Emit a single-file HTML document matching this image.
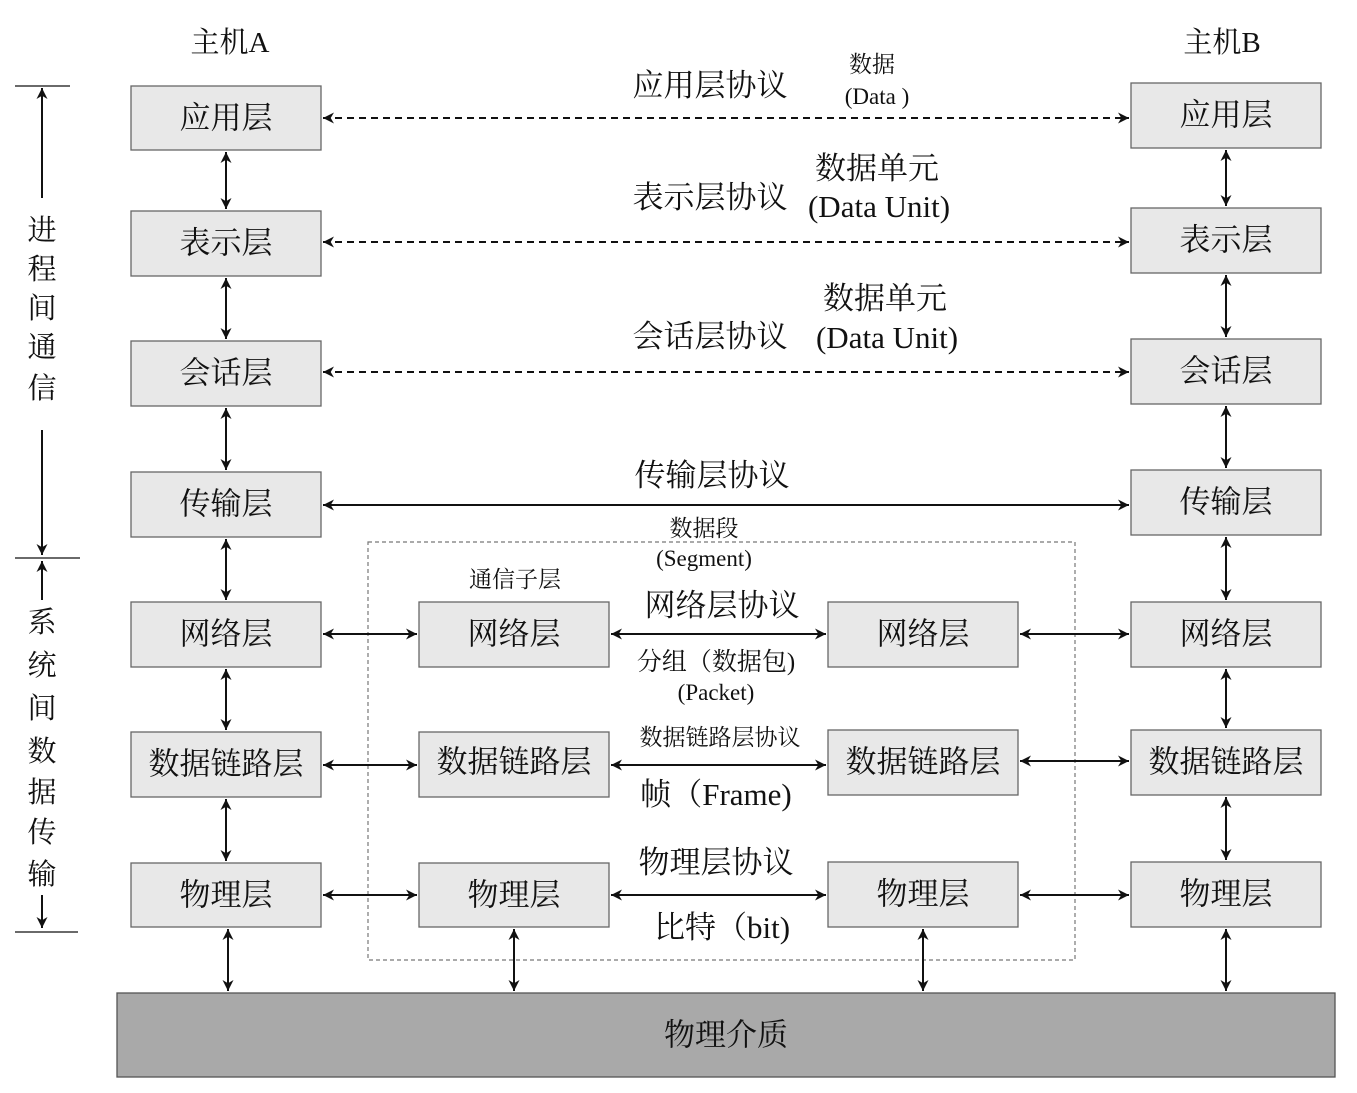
<!DOCTYPE html>
<html><head><meta charset="utf-8"><style>
html,body{margin:0;padding:0;background:#fff}
svg{display:block}
text{font-family:"Liberation Serif","Noto Serif CJK SC",serif;fill:#111;font-weight:normal}
.b{fill:#e8e8e8;stroke:#666;stroke-width:1.3}
.t{font-size:31px;text-anchor:middle;dominant-baseline:central}
.l{stroke:#111;stroke-width:2;fill:none}
.d{stroke:#111;stroke-width:2;fill:none;stroke-dasharray:7 5}
</style></head><body>
<svg width="1357" height="1093" viewBox="0 0 1357 1093">
<defs>
<marker id="a" viewBox="0 0 10 10" refX="10" refY="5" markerWidth="16" markerHeight="11" markerUnits="userSpaceOnUse" orient="auto-start-reverse"><path d="M0,0 L10,5 L0,10 L3,5z" fill="#111"/></marker>
</defs>
<text x="230" y="52" font-size="29" text-anchor="middle">主机A</text>
<text x="1222" y="52" font-size="29" text-anchor="middle">主机B</text>
<line x1="15" y1="86" x2="70" y2="86" class="l" style="stroke-width:1.3"/>
<line x1="42" y1="198" x2="42" y2="88" class="l" marker-end="url(#a)"/>
<line x1="42" y1="430" x2="42" y2="555" class="l" marker-end="url(#a)"/>
<line x1="15" y1="558" x2="80" y2="558" class="l" style="stroke-width:1.3"/>
<line x1="42" y1="600" x2="42" y2="561" class="l" marker-end="url(#a)"/>
<line x1="42" y1="895" x2="42" y2="928" class="l" marker-end="url(#a)"/>
<line x1="15" y1="932" x2="78" y2="932" class="l" style="stroke-width:1.3"/>
<g font-size="29" text-anchor="middle">
<text x="42" y="240">进</text><text x="42" y="279">程</text><text x="42" y="318">间</text><text x="42" y="357">通</text><text x="42" y="398">信</text>
<text x="42" y="632">系</text><text x="42" y="675">统</text><text x="42" y="718">间</text><text x="42" y="761">数</text><text x="42" y="802">据</text><text x="42" y="842">传</text><text x="42" y="884">输</text>
</g>
<rect x="368" y="542" width="707" height="418" fill="none" stroke="#777" stroke-width="1.2" stroke-dasharray="4 3"/>
<rect x="117" y="993" width="1218" height="84" fill="#a9a9a9" stroke="#555" stroke-width="1.3"/>
<text x="726" y="1035" class="t">物理介质</text>
<g>
<rect class="b" x="131" y="86" width="190" height="64"/><text class="t" x="226" y="118">应用层</text>
<rect class="b" x="131" y="211" width="190" height="65"/><text class="t" x="226" y="243">表示层</text>
<rect class="b" x="131" y="341" width="190" height="65"/><text class="t" x="226" y="373">会话层</text>
<rect class="b" x="131" y="472" width="190" height="65"/><text class="t" x="226" y="504">传输层</text>
<rect class="b" x="131" y="602" width="190" height="65"/><text class="t" x="226" y="634">网络层</text>
<rect class="b" x="131" y="732" width="190" height="65"/><text class="t" x="226" y="764">数据链路层</text>
<rect class="b" x="131" y="863" width="190" height="64"/><text class="t" x="226" y="895">物理层</text>
</g>
<g>
<rect class="b" x="1131" y="83" width="190" height="65"/><text class="t" x="1226" y="115">应用层</text>
<rect class="b" x="1131" y="208" width="190" height="65"/><text class="t" x="1226" y="240">表示层</text>
<rect class="b" x="1131" y="339" width="190" height="65"/><text class="t" x="1226" y="371">会话层</text>
<rect class="b" x="1131" y="470" width="190" height="65"/><text class="t" x="1226" y="502">传输层</text>
<rect class="b" x="1131" y="602" width="190" height="65"/><text class="t" x="1226" y="634">网络层</text>
<rect class="b" x="1131" y="730" width="190" height="65"/><text class="t" x="1226" y="762">数据链路层</text>
<rect class="b" x="1131" y="862" width="190" height="65"/><text class="t" x="1226" y="894">物理层</text>
</g>
<g>
<rect class="b" x="419" y="602" width="190" height="65"/><text class="t" x="514" y="634">网络层</text>
<rect class="b" x="419" y="732" width="190" height="65"/><text class="t" x="514" y="762">数据链路层</text>
<rect class="b" x="419" y="863" width="190" height="64"/><text class="t" x="514" y="895">物理层</text>
<rect class="b" x="828" y="602" width="190" height="65"/><text class="t" x="923" y="634">网络层</text>
<rect class="b" x="828" y="730" width="190" height="65"/><text class="t" x="923" y="762">数据链路层</text>
<rect class="b" x="828" y="862" width="190" height="65"/><text class="t" x="923" y="894">物理层</text>
</g>
<g class="l">
<line x1="226" y1="152" x2="226" y2="209" marker-start="url(#a)" marker-end="url(#a)"/>
<line x1="226" y1="278" x2="226" y2="339" marker-start="url(#a)" marker-end="url(#a)"/>
<line x1="226" y1="408" x2="226" y2="470" marker-start="url(#a)" marker-end="url(#a)"/>
<line x1="226" y1="539" x2="226" y2="600" marker-start="url(#a)" marker-end="url(#a)"/>
<line x1="226" y1="669" x2="226" y2="730" marker-start="url(#a)" marker-end="url(#a)"/>
<line x1="226" y1="799" x2="226" y2="861" marker-start="url(#a)" marker-end="url(#a)"/>
<line x1="228" y1="929" x2="228" y2="991" marker-start="url(#a)" marker-end="url(#a)"/>
<line x1="1226" y1="150" x2="1226" y2="206" marker-start="url(#a)" marker-end="url(#a)"/>
<line x1="1226" y1="275" x2="1226" y2="337" marker-start="url(#a)" marker-end="url(#a)"/>
<line x1="1226" y1="406" x2="1226" y2="468" marker-start="url(#a)" marker-end="url(#a)"/>
<line x1="1226" y1="537" x2="1226" y2="600" marker-start="url(#a)" marker-end="url(#a)"/>
<line x1="1226" y1="669" x2="1226" y2="728" marker-start="url(#a)" marker-end="url(#a)"/>
<line x1="1226" y1="797" x2="1226" y2="860" marker-start="url(#a)" marker-end="url(#a)"/>
<line x1="1226" y1="929" x2="1226" y2="991" marker-start="url(#a)" marker-end="url(#a)"/>
<line x1="514" y1="929" x2="514" y2="991" marker-start="url(#a)" marker-end="url(#a)"/>
<line x1="923" y1="929" x2="923" y2="991" marker-start="url(#a)" marker-end="url(#a)"/>
<line class="d" x1="323" y1="118" x2="1129" y2="118" marker-start="url(#a)" marker-end="url(#a)"/>
<line class="d" x1="323" y1="242" x2="1129" y2="242" marker-start="url(#a)" marker-end="url(#a)"/>
<line class="d" x1="323" y1="372" x2="1129" y2="372" marker-start="url(#a)" marker-end="url(#a)"/>
<line x1="323" y1="505" x2="1129" y2="505" marker-start="url(#a)" marker-end="url(#a)"/>
<line x1="323" y1="634" x2="417" y2="634" marker-start="url(#a)" marker-end="url(#a)"/>
<line x1="611" y1="634" x2="826" y2="634" marker-start="url(#a)" marker-end="url(#a)"/>
<line x1="1020" y1="634" x2="1129" y2="634" marker-start="url(#a)" marker-end="url(#a)"/>
<line x1="323" y1="765" x2="417" y2="765" marker-start="url(#a)" marker-end="url(#a)"/>
<line x1="611" y1="765" x2="826" y2="765" marker-start="url(#a)" marker-end="url(#a)"/>
<line x1="1020" y1="761" x2="1129" y2="761" marker-start="url(#a)" marker-end="url(#a)"/>
<line x1="323" y1="895" x2="417" y2="895" marker-start="url(#a)" marker-end="url(#a)"/>
<line x1="611" y1="895" x2="826" y2="895" marker-start="url(#a)" marker-end="url(#a)"/>
<line x1="1020" y1="895" x2="1129" y2="895" marker-start="url(#a)" marker-end="url(#a)"/>
</g>
<g font-size="31">
<text x="710" y="96" text-anchor="middle">应用层协议</text>
<text x="710" y="208" text-anchor="middle">表示层协议</text>
<text x="710" y="347" text-anchor="middle">会话层协议</text>
<text x="712" y="486" text-anchor="middle">传输层协议</text>
<text x="877" y="179" text-anchor="middle">数据单元</text>
<text x="879" y="217" text-anchor="middle">(Data Unit)</text>
<text x="885" y="309" text-anchor="middle">数据单元</text>
<text x="887" y="348" text-anchor="middle">(Data Unit)</text>
<text x="722" y="616" text-anchor="middle">网络层协议</text>
<text x="716" y="873" text-anchor="middle">物理层协议</text>
<text x="716" y="805" text-anchor="middle">帧（Frame)</text>
<text x="722" y="938" text-anchor="middle">比特（bit)</text>
</g>
<g font-size="23">
<text x="872" y="72" text-anchor="middle">数据</text>
<text x="877" y="104" text-anchor="middle">(Data )</text>
<text x="704" y="536" text-anchor="middle">数据段</text>
<text x="704" y="566" text-anchor="middle">(Segment)</text>
<text x="515" y="587" text-anchor="middle">通信子层</text>
<text x="716" y="670" text-anchor="middle" font-size="25">分组（数据包)</text>
<text x="716" y="700" text-anchor="middle">(Packet)</text>
<text x="720" y="745" text-anchor="middle">数据链路层协议</text>
</g>
</svg>
</body></html>
